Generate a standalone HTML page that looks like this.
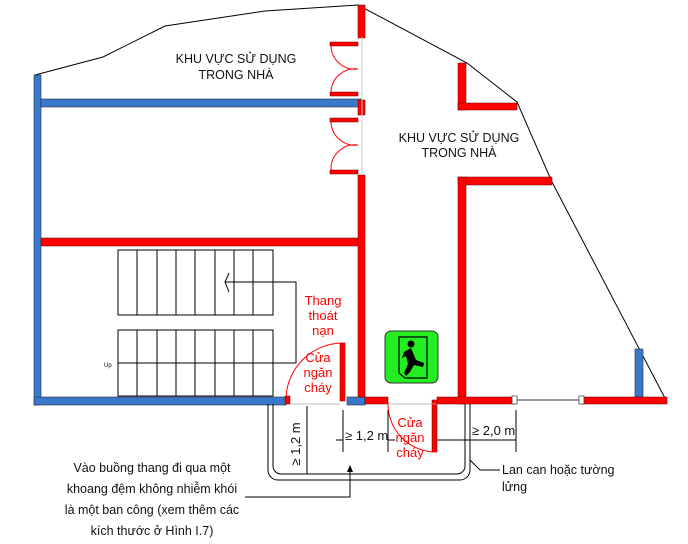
<!DOCTYPE html>
<html><head><meta charset="utf-8"><style>
body{margin:0;background:#fff}
svg{display:block;font-family:"Liberation Sans",sans-serif}
</style></head><body>
<svg width="688" height="544" viewBox="0 0 688 544" xmlns="http://www.w3.org/2000/svg">
<polyline points="35,75 103,57 165,26 265,11 358,5 467,63 517,102 552,182 667,402" fill="none" stroke="#000" stroke-width="1"/>
<g fill="#3a78c9" stroke="#234" stroke-width="0.6">
<rect x="34" y="75" width="7" height="330"/>
<rect x="41" y="99" width="321" height="8"/>
<rect x="34" y="397" width="252" height="8"/>
<rect x="347" y="397" width="18" height="8"/>
<rect x="635" y="349" width="8" height="48"/>
</g>
<g fill="#ff0000" stroke="#600" stroke-width="0.5">
<rect x="41" y="238" width="317" height="8"/>
<rect x="358" y="5" width="7" height="33"/>
<rect x="358" y="175" width="7" height="222"/>
<rect x="358" y="100" width="7" height="15"/>
<rect x="458" y="63" width="8" height="47"/>
<rect x="458" y="103" width="59" height="7"/>
<rect x="458" y="177" width="94" height="8"/>
<rect x="458" y="177" width="8" height="227"/>
<rect x="365" y="397" width="23" height="7"/>
<rect x="437" y="397" width="78" height="7"/>
<rect x="582" y="397" width="85" height="7"/>
<rect x="285" y="396" width="5" height="8"/>
<rect x="340" y="343" width="5" height="58"/>
<rect x="432" y="400" width="5" height="52"/>
<rect x="330" y="42" width="28" height="4"/>
<rect x="330" y="92" width="28" height="4"/>
<rect x="330" y="118" width="28" height="4"/>
<rect x="330" y="170" width="28" height="4"/>
</g>
<g fill="none" stroke="#ff0000" stroke-width="1">
<path d="M331,46 A24,24 0 0 0 358,69 A24,24 0 0 0 331,92"/>
<path d="M331,122 A24,24 0 0 0 358,145 A24,24 0 0 0 331,170"/>
<path d="M286,398 A57,57 0 0 1 343,343"/>
<path d="M388,402 A48,48 0 0 0 435,452"/>
</g>
<line x1="362" y1="37" x2="362" y2="175" stroke="#ccc" stroke-width="1"/>
<line x1="290" y1="404" x2="340" y2="404" stroke="#aaa" stroke-width="0.8"/>
<line x1="388" y1="404" x2="437" y2="404" stroke="#aaa" stroke-width="0.8"/>
<line x1="515" y1="400" x2="582" y2="400" stroke="#333" stroke-width="1"/>
<rect x="512" y="396" width="5" height="8" fill="#fff" stroke="#333" stroke-width="0.7"/>
<rect x="579" y="396" width="5" height="8" fill="#fff" stroke="#333" stroke-width="0.7"/>
<g fill="none" stroke="#000" stroke-width="1">
<rect x="118" y="250" width="155" height="65"/>
<rect x="118" y="330" width="155" height="66"/>
<path d="M137,250V315M157,250V315M176,250V315M195,250V315M215,250V315M234,250V315M253,250V315"/>
<path d="M137,330V396M157,330V396M176,330V396M195,330V396M215,330V396M234,330V396M253,330V396"/>
<path d="M118,363H296V282H225"/>
<path d="M229,273L225,282L229,292"/>
</g>
<text x="104" y="367" font-size="6" fill="#000">Up</text>
<g fill="none" stroke="#000" stroke-width="1">
<path d="M268,404V470a10,10 0 0 0 10,10H460a10,10 0 0 0 10,-10V404"/>
<path d="M273,404V466a8,8 0 0 0 8,8H457a8,8 0 0 0 8,-8V404"/>
<line x1="307" y1="406" x2="307" y2="474"/>
<line x1="343" y1="410" x2="343" y2="452"/>
<line x1="388" y1="410" x2="388" y2="452"/>
<line x1="336" y1="440" x2="343" y2="440"/>
<line x1="388" y1="440" x2="395" y2="440"/>
<line x1="516" y1="410" x2="516" y2="452"/>
<line x1="437" y1="440" x2="516" y2="440"/>
<path d="M245,497H350V472"/>
<path d="M470,460L480,470H500"/>
</g>
<path d="M347,472L350,465L353,472Z" fill="#000"/>
<rect x="385" y="331" width="53" height="52" rx="6" fill="#22ee22" stroke="#333" stroke-width="1"/>
<path d="M399,337H427V378H405L399,373Z" fill="none" stroke="#000" stroke-width="1.2"/>
<circle cx="411" cy="344" r="3.5" fill="#000"/>
<path d="M404,352L411,348L416,360L424,363L423,367L414,365L410,372L406,376L404,373L408,364L406,356L402,358Z" fill="#000"/>
<g font-size="12.5" fill="#111" text-anchor="middle">
<text x="236" y="63">KHU VỰC SỬ DỤNG</text>
<text x="236" y="79">TRONG NHÀ</text>
<text x="459" y="142">KHU VỰC SỬ DỤNG</text>
<text x="459" y="157">TRONG NHÀ</text>
</g>
<g font-size="13" fill="#ff0000" text-anchor="middle">
<text x="323" y="305">Thang</text>
<text x="323" y="320">thoát</text>
<text x="323" y="335">nạn</text>
<text x="318" y="362">Cửa</text>
<text x="318" y="377">ngăn</text>
<text x="318" y="392">cháy</text>
<text x="410" y="427">Cửa</text>
<text x="410" y="442">ngăn</text>
<text x="410" y="457">cháy</text>
</g>
<g font-size="13" fill="#111">
<text x="345" y="440">≥ 1,2 m</text>
<text x="472" y="435">≥ 2,0 m</text>
<text transform="translate(300,444) rotate(-90)" text-anchor="middle">≥ 1,2 m</text>
</g>
<g font-size="12.5" fill="#111" text-anchor="middle">
<text x="152" y="472">Vào buồng thang đi qua một</text>
<text x="152" y="493">khoang đệm không nhiễm khói</text>
<text x="152" y="514">là một ban công (xem thêm các</text>
<text x="152" y="535">kích thước ở Hình I.7)</text>
</g>
<g font-size="12.5" fill="#111">
<text x="502" y="474">Lan can hoặc tường</text>
<text x="502" y="491">lửng</text>
</g>
</svg>
</body></html>
